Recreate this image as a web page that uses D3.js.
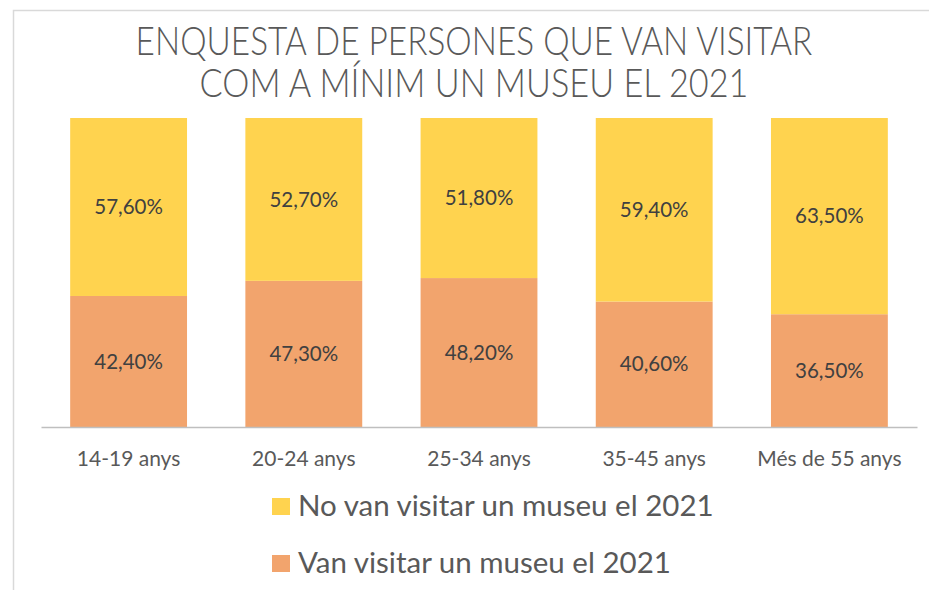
<!DOCTYPE html>
<html>
<head>
<meta charset="utf-8">
<script src="https://cdn.jsdelivr.net/npm/d3@7"></script>
<style>
  body { margin: 0; background: #fff; }
  text { font-family: Lato, "Open Sans", sans-serif; }
</style>
</head>
<body>
<div id="chart"></div>
<script>
// data
const categories = ["14-19 anys", "20-24 anys", "25-34 anys", "35-45 anys", "Més de 55 anys"];
const visited = [42.4, 47.3, 48.2, 40.6, 36.5];
const notVisited = [57.6, 52.7, 51.8, 59.4, 63.5];
const seriesNames = ["No van visitar un museu el 2021", "Van visitar un museu el 2021"];
const titleLines = ["ENQUESTA DE PERSONES QUE VAN VISITAR", "COM A MÍNIM UN MUSEU EL 2021"];
const titleWidths = [677, 549]; // title font is condensed

const W = 929, H = 590;
const plot = { left: 41, right: 917, top: 118, bottom: 427 };
const colors = { no: "#FFD34F", yes: "#F2A46D" };

const svg = d3.select("#chart").append("svg")
  .attr("width", W)
  .attr("height", H);

// chart border (top + left only visible)
svg.append("path")
  .attr("d", `M13.5,${H} L13.5,10.5 L${W},10.5`)
  .attr("fill", "none")
  .attr("stroke", "#d9d9d9")
  .attr("stroke-width", 1.5);

// title, squeezed horizontally to look like the condensed original
svg.append("g").selectAll("text")
  .data(titleLines)
  .enter()
  .append("text")
  .attr("x", 0)
  .attr("y", 0)
  .attr("text-anchor", "middle")
  .attr("font-size", 39)
  .attr("font-weight", 300)
  .attr("fill", "#595959")
  .text(d => d)
  .attr("transform", function (d, i) {
    const k = titleWidths[i] / this.getComputedTextLength();
    return `translate(474,${55 + i * 42}) scale(${k},1)`;
  });

const x = d3.scaleBand()
  .domain(categories)
  .range([plot.left, plot.right])
  .paddingInner(0.333)
  .paddingOuter(0.1665);

const y = d3.scaleLinear()
  .domain([0, 100])
  .range([plot.bottom, plot.top]);

// stacked rows
const rows = categories.map((c, i) => ({ cat: c, yes: visited[i], no: notVisited[i] }));
const stack = d3.stack().keys(["yes", "no"])(rows);

const layers = svg.append("g").selectAll("g")
  .data(stack)
  .enter()
  .append("g")
  .attr("fill", d => colors[d.key]);

layers.selectAll("rect")
  .data(d => d)
  .enter()
  .append("rect")
  .attr("x", d => x(d.data.cat))
  .attr("y", d => y(d[1]))
  .attr("width", x.bandwidth())
  .attr("height", d => y(d[0]) - y(d[1]));

// data labels
layers.selectAll("text")
  .data(d => d.map(v => ({ v: v, key: d.key })))
  .enter()
  .append("text")
  .attr("x", d => x(d.v.data.cat) + x.bandwidth() / 2)
  .attr("y", d => (y(d.v[0]) + y(d.v[1])) / 2)
  .attr("dy", "0.35em")
  .attr("text-anchor", "middle")
  .attr("font-size", 20.5)
  .attr("fill", "#404040")
  .text(d => d3.format(".2f")(d.v.data[d.key]).replace(".", ",") + "%");

// x axis
const xAxis = svg.append("g")
  .attr("transform", `translate(0,${plot.bottom})`)
  .call(d3.axisBottom(x).tickSize(0).tickPadding(24));
xAxis.select(".domain")
  .attr("stroke", "#bfbfbf")
  .attr("stroke-width", 1.5);
xAxis.selectAll("text")
  .attr("font-size", 21)
  .attr("fill", "#595959")
  .style("font-family", "Lato, 'Open Sans', sans-serif");

// legend
const legend = svg.append("g").selectAll("g")
  .data(seriesNames)
  .enter()
  .append("g")
  .attr("transform", (d, i) => `translate(272,${506 + i * 57})`);
legend.append("rect")
  .attr("x", 0)
  .attr("y", -8)
  .attr("width", 18)
  .attr("height", 17)
  .attr("fill", (d, i) => i === 0 ? colors.no : colors.yes);
legend.append("text")
  .attr("x", 26)
  .attr("y", 0)
  .attr("dy", "0.35em")
  .attr("font-size", 29.5)
  .attr("fill", "#595959")
  .text(d => d);
</script>
</body>
</html>
